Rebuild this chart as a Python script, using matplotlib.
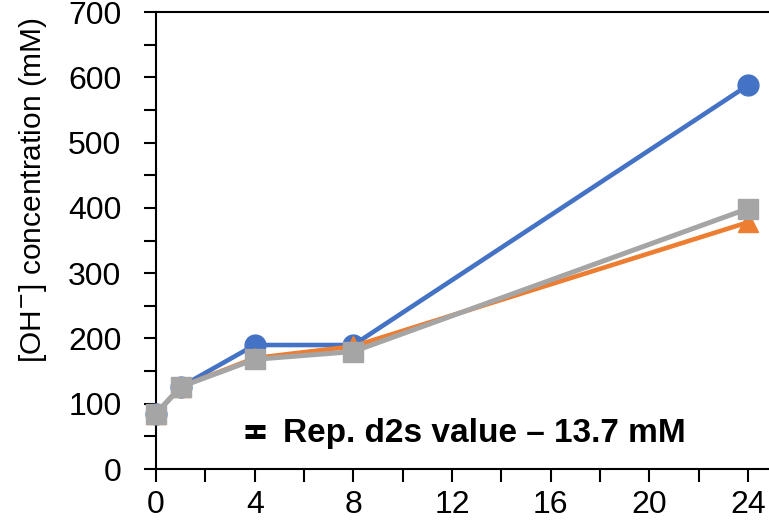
import matplotlib

matplotlib.use("Agg")
import matplotlib.pyplot as plt  # noqa: E402
from matplotlib.ticker import MultipleLocator  # noqa: E402

plt.rcParams["font.family"] = ["Liberation Sans", "DejaVu Sans"]

# sampling times (h) and [OH-] values (mM)
times = [0, 1, 4, 8, 24]
blue_vals = [85, 126, 190, 190, 588]
orange_vals = [85, 126, 170, 188, 378]
gray_vals = [85, 126, 168, 180, 399]

d2s_value = 13.7
x_ticks = [0, 4, 8, 12, 16, 20, 24]

BLUE = "#4472C4"
ORANGE = "#ED7D31"
GRAY = "#A5A5A5"

fig = plt.figure(figsize=(7.69, 5.27), dpi=100)
ax = fig.add_axes([0.203, 0.110, 0.797, 0.867])

ax.plot(times, blue_vals, color=BLUE, lw=3.3, marker="o", ms=15, zorder=3, clip_on=False)
ax.plot(times, orange_vals, color=ORANGE, lw=3.3, marker="^", ms=15, zorder=4, clip_on=False)
ax.plot(times, gray_vals, color=GRAY, lw=3.6, marker="s", ms=14.5, zorder=5, clip_on=False)

# representative d2s error bar legend
ax.errorbar([4.0], [57], yerr=d2s_value / 2, color="black", lw=2.5, capsize=7, capthick=3.6)
ax.text(5.15, 55, "Rep. d2s value \u2013 13.7 mM", fontsize=24, fontweight="bold",
        va="center", ha="left")

ax.set_xlim(0, 24.85)
ax.set_ylim(0, 700)
ax.set_xticks(x_ticks)
ax.xaxis.set_minor_locator(MultipleLocator(2))
ax.yaxis.set_major_locator(MultipleLocator(100))
ax.yaxis.set_minor_locator(MultipleLocator(50))
ax.tick_params(which="major", length=9, width=1.5, labelsize=23, pad=6)
ax.tick_params(which="minor", length=9, width=1.5)
ax.tick_params(axis="y", which="major", pad=16)
for side in ["left", "bottom", "top"]:
    ax.spines[side].set_linewidth(1.5)
ax.spines["right"].set_visible(False)

ax.set_ylabel("[OH$^{-}$] concentration (mM)", fontsize=21.5)
ax.yaxis.set_label_coords(-0.175, 0.61)

fig.savefig("out.png", dpi=100)
